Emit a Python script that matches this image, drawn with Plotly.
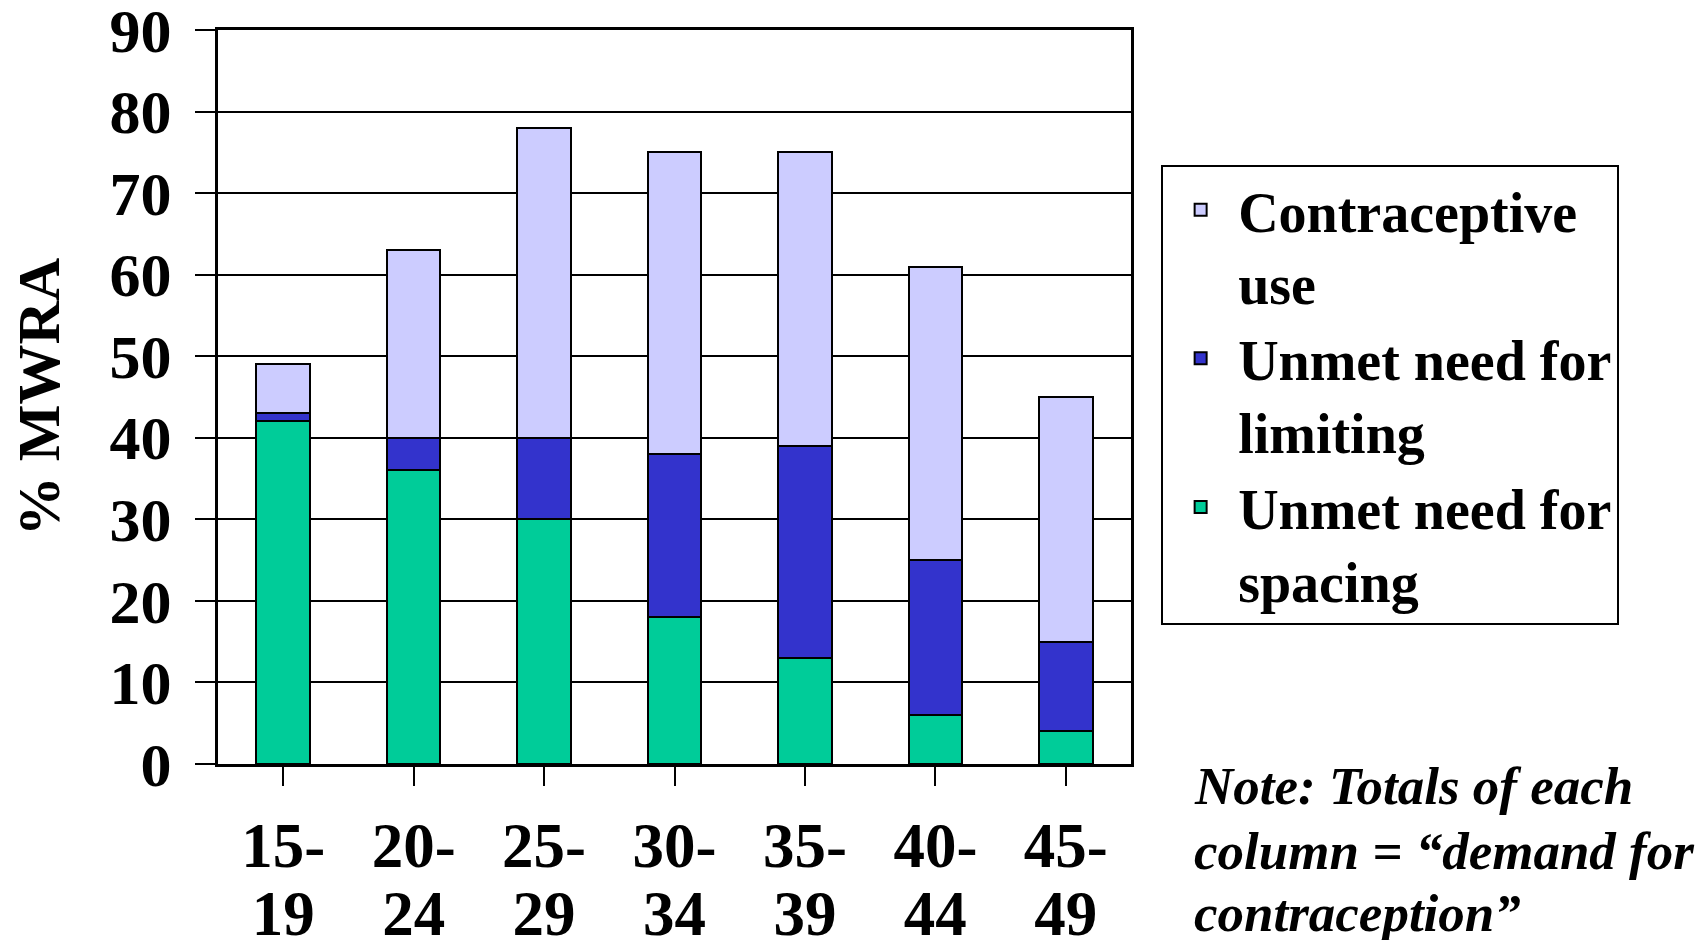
import plotly.graph_objects as go

age_start = ["15-", "20-", "25-", "30-", "35-", "40-", "45-"]
age_end = ["19", "24", "29", "34", "39", "44", "49"]
unmet_spacing = [42, 36, 30, 18, 13, 6, 4]
unmet_limiting = [1, 4, 10, 20, 26, 19, 11]
contraceptive_use = [6, 23, 38, 37, 36, 36, 30]
y_ticks = [0, 10, 20, 30, 40, 50, 60, 70, 80, 90]
note_lines = ["Note: Totals of each", "column = \u201cdemand for", "contraception\u201d"]

FONT = "Liberation Serif, Times New Roman, serif"
x_idx = list(range(len(age_start)))

fig = go.Figure()
series = [
    ("Unmet need for<br>spacing", unmet_spacing, "#00CC99"),
    ("Unmet need for<br>limiting", unmet_limiting, "#3333CC"),
    ("Contraceptive<br>use", contraceptive_use, "#CCCCFF"),
]
for name, vals, col in series:
    fig.add_trace(go.Bar(
        x=x_idx, y=vals, name=name,
        marker=dict(color=col, line=dict(color="black", width=2)),
    ))

# empty helper trace so the second row of age labels (xaxis2) is drawn
fig.add_trace(go.Scatter(x=[], y=[], xaxis="x2", yaxis="y",
                         showlegend=False, hoverinfo="skip"))

fig.update_layout(
    width=1700, height=940,
    barmode="stack", bargap=0.59,
    plot_bgcolor="white", paper_bgcolor="white",
    margin=dict(l=218, r=569, t=30, b=176, autoexpand=False),
    font=dict(family=FONT, color="black", weight="bold"),
    legend=dict(
        x=1.033, y=0.503, xanchor="left", yanchor="middle",
        traceorder="reversed", valign="top",
        bordercolor="black", borderwidth=2, bgcolor="white",
        font=dict(family=FONT, size=56, color="black", weight="bold"),
        itemwidth=65,
    ),
    showlegend=True,
)

fig.update_layout(
    xaxis=dict(
        range=[-0.5, 6.5],
        tickmode="array", tickvals=x_idx, ticktext=age_start,
        tickson="boundaries",
        ticks="outside", ticklen=19, tickwidth=2, tickcolor="black",
        showline=True, linecolor="black", linewidth=3, mirror=True,
        showgrid=False, zeroline=False,
        tickfont=dict(family=FONT, size=63, color="black", weight="bold"),
        ticklabelstandoff=5, ticklabeloverflow="allow",
    ),
    xaxis2=dict(
        overlaying="x", anchor="y", side="bottom",
        range=[-0.5, 6.5],
        tickmode="array", tickvals=x_idx, ticktext=age_end,
        ticks="", showline=False, showgrid=False, zeroline=False,
        tickfont=dict(family=FONT, size=63, color="black", weight="bold"),
        ticklabelstandoff=107, ticklabeloverflow="allow",
    ),
    yaxis=dict(
        range=[0, 90],
        tickmode="array", tickvals=y_ticks,
        ticks="outside", ticklen=20, tickwidth=2, tickcolor="black",
        showline=True, linecolor="black", linewidth=3, mirror=True,
        showgrid=True, gridcolor="black", gridwidth=2,
        zeroline=False,
        tickfont=dict(family=FONT, size=62, color="black", weight="bold"),
        ticklabelstandoff=11, ticklabeloverflow="allow",
        title=dict(text="% MWRA", standoff=31,
                   font=dict(family=FONT, size=60, color="black", weight="bold")),
    ),
)

note_y = [-0.030, -0.119, -0.203]
for line, yy in zip(note_lines, note_y):
    fig.add_annotation(
        xref="paper", yref="paper", x=1.067, y=yy,
        xanchor="left", yanchor="middle", align="left", showarrow=False,
        text=line,
        font=dict(family=FONT, size=53, color="black", weight="bold", style="italic"),
    )

fig.write_html("out.html")
